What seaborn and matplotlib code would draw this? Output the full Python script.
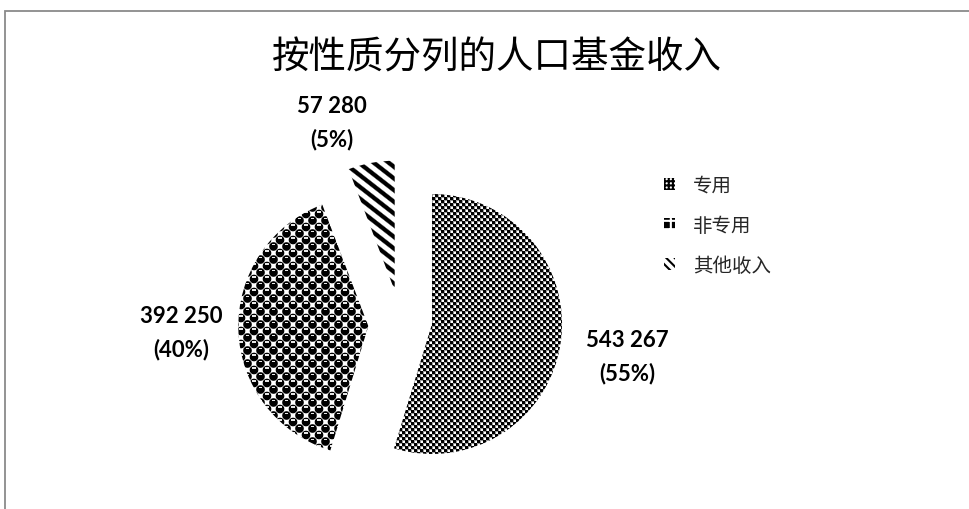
import numpy as np
import seaborn as sns
import matplotlib.pyplot as plt
from matplotlib.patches import Patch, Rectangle

# dados
categorias = ['专用', '非专用', '其他收入']
valores = [543267, 392250, 57280]
percentuais = [55, 40, 5]
titulo = '按性质分列的人口基金收入'

sns.set_theme(style='white')
plt.rcParams['font.family'] = ['Noto Sans CJK SC', 'DejaVu Sans']
plt.rcParams['hatch.linewidth'] = 1.5

W, H, DPI = 969, 510, 100
R_PX = 130           # raio da pizza em pixels
CX, CY = 432, 325    # centro da pizza (pixels, a partir do canto superior esquerdo)


def texturas(h, w):
    """Padrões em preto e branco usados para preencher cada fatia."""
    yy, xx = np.indices((h, w)).astype(float)

    # xadrez fino (casas brancas com borda acinzentada)
    xadrez = ((xx // 3 + yy // 3) % 2).astype(float)
    borda = (xx % 3 == 0) | (yy % 3 == 0)
    xadrez[(xadrez == 1) & borda] = 0.6

    # bolinhas pretas com brilho
    c, r = 6.5, 4.3
    a, b = xx / c, yy / c
    s, t = (a + b) / 2, (a - b) / 2
    ds, dt = s - np.round(s), t - np.round(t)
    dx, dy = (ds + dt) * c, (ds - dt) * c
    dist = np.hypot(dx, dy)
    bolas = np.clip(dist - r + 0.5, 0, 1)
    brilho = (np.abs(dx) < 1.6) & (dy > -2.6) & (dy < -1.2)
    bolas[brilho] = 0.9

    # listras diagonais
    ang = np.deg2rad(38)
    tt = -xx * np.sin(ang) + yy * np.cos(ang)
    d = 0.5 + 0.5 * np.cos(2 * np.pi * tt / 9.2)
    listras = 1 - np.clip((d - 0.35) / 0.4, 0, 1)

    return [xadrez, bolas, listras]


fig = plt.figure(figsize=(W / DPI, H / DPI), dpi=DPI)
ax = fig.add_axes([0, 0, 1, 1])
xlim = (-CX / R_PX, (W - CX) / R_PX)
ylim = (-(H - CY) / R_PX, CY / R_PX)

wedges, _ = ax.pie(valores, startangle=90, counterclock=False,
                   explode=[0, 0.49, 0.26],
                   wedgeprops=dict(facecolor='none', edgecolor='none'))

# deslocamento extra da fatia pequena (como no Excel)
ajuste = [(0, 0), (0, 0), (-0.24, 0)]
for w, (ddx, ddy) in zip(wedges, ajuste):
    w.set_center((w.center[0] + ddx, w.center[1] + ddy))

for w, img in zip(wedges, texturas(H, W)):
    ax.imshow(img, cmap='gray', vmin=0, vmax=1, interpolation='nearest',
              extent=(xlim[0], xlim[1], ylim[0], ylim[1]), origin='upper',
              aspect='auto', clip_path=w)

# rótulos: valor + percentual
dist_rotulo = [1.52, 1.44, 1.38]
giro_rotulo = [-1, 0, 10]
for w, v, p, dd, gr in zip(wedges, valores, percentuais, dist_rotulo, giro_rotulo):
    mid = np.deg2rad((w.theta1 + w.theta2) / 2 + gr)
    x = w.center[0] + dd * np.cos(mid)
    y = w.center[1] + dd * np.sin(mid)
    txt = f'{v:,}'.replace(',', ' ') + f'\n({p}%)'
    ax.text(x, y, txt, ha='center', va='center', multialignment='center',
            fontfamily='Lato', fontweight='bold', fontsize=16,
            linespacing=1.65, color='black')

ax.set_xlim(*xlim)
ax.set_ylim(*ylim)
ax.set_aspect('auto')
ax.axis('off')

handles = [
    Patch(facecolor='white', edgecolor='black', hatch='++++', lw=0),
    Patch(facecolor='black', edgecolor='white', hatch='++', lw=0),
    Patch(facecolor='white', edgecolor='black', hatch='\\\\\\\\', lw=0),
]
leg = ax.legend(handles, categorias, loc='upper left',
                bbox_to_anchor=(664 / W, 1 - 176 / H), bbox_transform=fig.transFigure,
                frameon=False, fontsize=14, handlelength=0.55, handleheight=0.55,
                handletextpad=0.95, labelspacing=0.98, borderpad=0, borderaxespad=0)
for t in leg.get_texts():
    t.set_color('#262626')

fig.text(497 / W, 1 - 58 / H, titulo, ha='center', va='center', fontsize=27,
         color='black')

# moldura cinza do gráfico (cortada à direita e embaixo)
fig.add_artist(Rectangle((5 / W, -0.1), 1.2, 1.1 - 12 / H, transform=fig.transFigure,
                         fill=False, edgecolor='#8a8a8a', lw=1.3))

fig.savefig('out.png', dpi=DPI)
